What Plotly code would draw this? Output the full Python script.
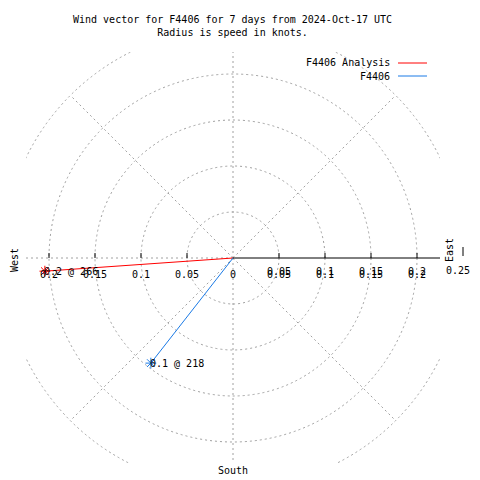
import numpy as np
import plotly.graph_objects as go

# ---- data ----
title_lines = ["Wind vector for F4406 for 7 days from 2024-Oct-17 UTC",
               "Radius is speed in knots."]
series_names = ["F4406 Analysis", "F4406"]
speeds = [0.205, 0.145]          # knots
directions = [266, 218]          # degrees (compass)
series_colors = ["#ff0000", "#1a7ae6"]
grid_radii = [0.05, 0.1, 0.15, 0.2, 0.25]
grid_angles = [0, 45, 135, 180, 225, 270, 315]
tick_vals = [0.05, 0.1, 0.15, 0.2]
outer_tick = 0.25

# ---- geometry (page pixel coordinates; page body has an 8px margin) ----
OFF = 8
W, H = 480 - OFF, 480 - OFF
L, R, T, B = 26, 440, 52, 463
CX, CY = 233, 258
SCALE = 920.0  # px per knot

def px(x):
    return (x - L) / (R - L)

def py(y):
    return (B - y) / (B - T)

FONT = dict(family="DejaVu Sans Mono", size=10, color="black")
GRID = dict(color="#a0a0a0", width=1, dash="2px,3px")
MID = dict(xanchor="center", yanchor="middle", showarrow=False, font=FONT)

fig = go.Figure()
shapes = []
annotations = []

# grid circles
for r in grid_radii:
    shapes.append(dict(type="circle", xref="x", yref="y", x0=-r, x1=r, y0=-r, y1=r,
                       line=GRID, layer="below"))
# radial grid lines
for a in grid_angles:
    rr = max(grid_radii)
    shapes.append(dict(type="line", xref="x", yref="y", x0=0, y0=0,
                       x1=rr * np.sin(np.radians(a)), y1=rr * np.cos(np.radians(a)),
                       line=GRID, layer="below"))
# solid east axis
shapes.append(dict(type="line", xref="x", yref="y", x0=0, y0=0, x1=0.3, y1=0,
                   line=dict(color="black", width=1), layer="below"))
# tick marks and labels
for t in tick_vals:
    for s in (-1, 1):
        shapes.append(dict(type="line", xref="x", yref="y", ysizemode="pixel", yanchor=0,
                           x0=s * t, x1=s * t, y0=0, y1=5,
                           line=dict(color="black", width=1)))
        label = f"{t:g}"
        if s < 0:
            annotations.append(dict(x=s * t, y=0, xref="x", yref="y", text=label,
                                    yshift=-16, **MID))
        else:
            for ys in (-13, -16):
                annotations.append(dict(x=s * t, y=0, xref="x", yref="y", text=label,
                                        yshift=ys, **MID))
annotations.append(dict(x=0, y=0, xref="x", yref="y", text="0", yshift=-16, **MID))
# outer tick beyond plot area
ox = CX + outer_tick * SCALE
shapes.append(dict(type="line", xref="paper", yref="paper", x0=px(ox), x1=px(ox),
                   y0=py(256), y1=py(247), line=dict(color="black", width=1)))
annotations.append(dict(x=px(472), y=py(270), xref="paper", yref="paper",
                        text=f"{outer_tick:g}", xanchor="right", yanchor="middle",
                        showarrow=False, font=FONT))

# compass labels
annotations.append(dict(x=px(14), y=py(260), xref="paper", yref="paper", text="West",
                        textangle=-90, **MID))
annotations.append(dict(x=px(449), y=py(250), xref="paper", yref="paper", text="East",
                        textangle=-90, **MID))
annotations.append(dict(x=px(CX), y=py(470), xref="paper", yref="paper", text="South",
                        **MID))

# title
annotations.append(dict(x=px(232), y=py(26), xref="paper", yref="paper",
                        text="<br>".join(title_lines), **MID))

# data vectors
for name, sp, d, c, ly in zip(series_names, speeds, directions, series_colors, [63, 76]):
    xe = sp * np.sin(np.radians(d))
    ye = sp * np.cos(np.radians(d))
    fig.add_trace(go.Scatter(x=[0, xe], y=[0, ye], mode="lines",
                             line=dict(color=c, width=1), name=name, showlegend=False))
    fig.add_trace(go.Scatter(x=[xe], y=[ye], mode="markers",
                             marker=dict(symbol="asterisk-open", size=9, color=c,
                                         line=dict(color=c, width=1)),
                             showlegend=False, hoverinfo="skip"))
    annotations.append(dict(x=xe, y=ye, xref="x", yref="y", text=f"{sp:.1f} @ {d}",
                            showarrow=False, xanchor="left", yanchor="middle",
                            xshift=-3, font=FONT))
    # manual legend
    annotations.append(dict(x=px(392), y=py(ly), xref="paper", yref="paper", text=name,
                            xanchor="right", yanchor="middle", showarrow=False, font=FONT))
    shapes.append(dict(type="line", xref="paper", yref="paper", x0=px(398), x1=px(427),
                       y0=py(ly), y1=py(ly), line=dict(color=c, width=1)))

yr0 = -(B - CY) / SCALE
yr1 = (CY - T) / SCALE
fig.update_layout(
    width=W, height=H,
    margin=dict(l=L - OFF, r=W - (R - OFF), t=T - OFF, b=H - (B - OFF), pad=0),
    paper_bgcolor="white", plot_bgcolor="white",
    xaxis=dict(range=[-(CX - L) / SCALE, (R - CX) / SCALE], visible=False, fixedrange=True),
    yaxis=dict(range=[yr0, yr1], visible=False, fixedrange=True),
    shapes=shapes, annotations=annotations, showlegend=False,
)
fig.write_html("out.html")
